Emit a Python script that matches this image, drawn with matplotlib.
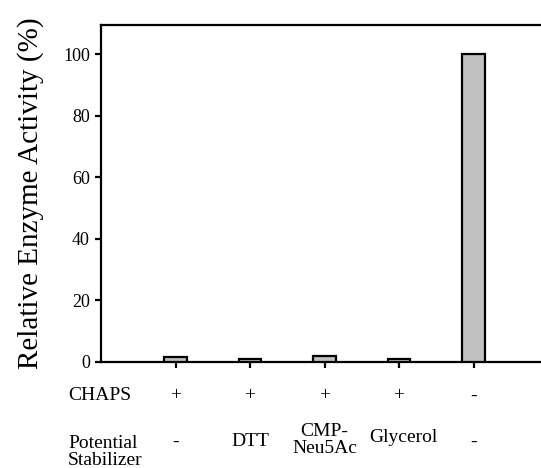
import matplotlib
matplotlib.use('Agg')
import matplotlib.pyplot as plt

plt.rcParams['font.family'] = ['Liberation Serif', 'DejaVu Serif']

# data
activity = [1.6, 1.0, 1.8, 1.0, 100]
chaps = ['+', '+', '+', '+', '-']
stabilizer = ['-', 'DTT', 'CMP-\nNeu5Ac', 'Glycerol', '-']
yticks = [0, 20, 40, 60, 80, 100]

W, H = 541, 468
fig = plt.figure(figsize=(W / 100, H / 100), dpi=100)
ax = fig.add_axes([101 / W, (H - 362) / H, (548 - 101) / W, (362 - 25) / H])

x = list(range(len(activity)))
ax.bar(x, activity, width=0.3, color='#c0c0c0', edgecolor='black', linewidth=1.6, zorder=3)

ax.set_xlim(-1, 5)
ax.set_ylim(0, 109.5)
ax.set_yticks(yticks)
ax.set_xticks(x)
ax.set_xticklabels([])
ax.tick_params(axis='y', direction='out', length=4, width=1.6, labelsize=13, pad=4)
ax.tick_params(axis='x', direction='out', length=4, width=1.6)
for s in ax.spines.values():
    s.set_linewidth(1.6)
ax.spines['right'].set_visible(False)
ax.set_ylabel('Relative Enzyme Activity (%)', fontsize=21, labelpad=14)


def fy(px):
    # pixel row -> axes fraction (for text under the axis)
    return -(px - 362) / 337


# rows of conditions under the axis
trans = ax.get_xaxis_transform()
fig.text(68 / W, 1 - 396 / H, 'CHAPS', fontsize=14, ha='left', va='center')
for i, c in enumerate(chaps):
    ax.text(i, fy(396), c, transform=trans, fontsize=14, ha='center', va='center')

fig.text(68 / W, 1 - 452 / H, 'Potential\nStabilizer', fontsize=14, ha='left', va='center',
         linespacing=1.05)
for i, s in enumerate(stabilizer):
    yy = fy(442)
    xx = i
    if s == 'Glycerol':
        yy = fy(438)
        xx = i + 0.06
    if '\n' in s:
        yy = fy(440)
    ax.text(xx, yy, s, transform=trans, fontsize=14, ha='center', va='center',
            linespacing=1.05)

fig.savefig('out.png', dpi=100)
